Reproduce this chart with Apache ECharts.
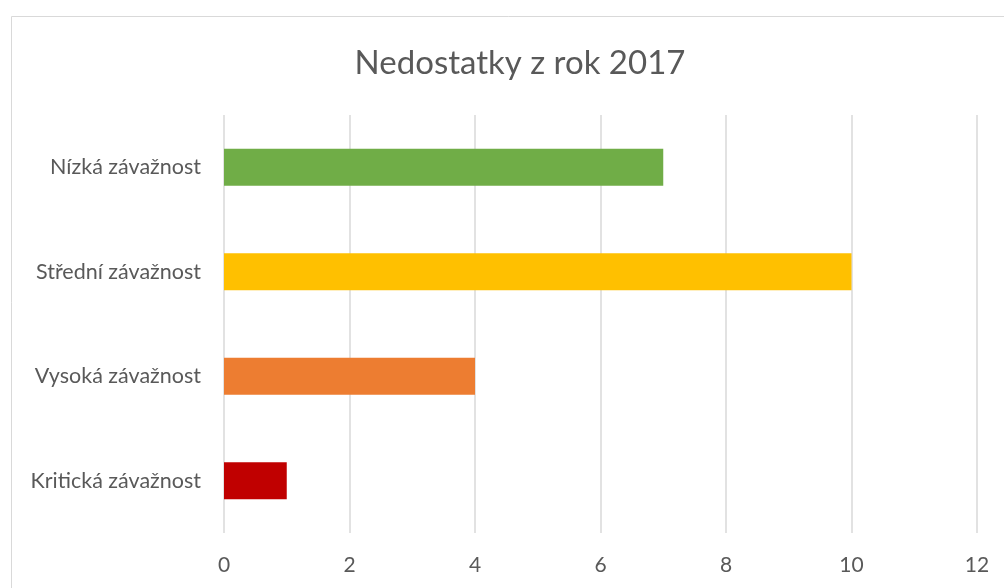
<!DOCTYPE html>
<html>
<head>
<meta charset="utf-8">
<script src="https://cdn.jsdelivr.net/npm/echarts@6/dist/echarts.min.js"></script>
<style>
html, body { margin: 0; padding: 0; background: #fff; }
#chart { width: 1004px; height: 588px; }
</style>
</head>
<body>
<div id="chart"></div>
<script>
var categories = ['Nízká závažnost', 'Střední závažnost', 'Vysoká závažnost', 'Kritická závažnost']
var values = [7, 10, 4, 1]
var barColors = ['#70AD47', '#FFC000', '#ED7D31', '#C00000']

var chart = echarts.init(document.getElementById('chart'))
var font = 'Lato, "Open Sans", sans-serif'

chart.setOption({
    animation: false,
    title: {
        text: 'Nedostatky z rok 2017',
        left: 515,
        textAlign: 'center',
        top: 42,
        textStyle: { fontFamily: font, fontSize: 33, fontWeight: 'normal', color: '#595959' }
    },
    graphic: [{
        type: 'rect',
        shape: { x: 11.5, y: 16.5, width: 1100, height: 700 },
        style: { fill: 'none', stroke: '#d9d9d9', lineWidth: 1 },
        silent: true
    }],
    grid: { left: 224, right: 27, top: 115, bottom: 55 },
    xAxis: {
        type: 'value',
        min: 0,
        max: 12,
        interval: 2,
        axisLine: { show: false },
        axisTick: { show: false },
        splitLine: { lineStyle: { color: '#d9d9d9', width: 1.5 } },
        axisLabel: { fontFamily: font, fontSize: 21, color: '#595959', margin: 22 }
    },
    yAxis: {
        type: 'category',
        data: categories,
        inverse: true,
        axisLine: { show: false },
        axisTick: { show: false },
        axisLabel: { fontFamily: font, fontSize: 21.5, color: '#595959', margin: 23 }
    },
    series: [{
        type: 'bar',
        barWidth: 37,
        data: values.map(function (v, i) {
            return { value: v, itemStyle: { color: barColors[i] } }
        })
    }]
})
</script>
</body>
</html>
